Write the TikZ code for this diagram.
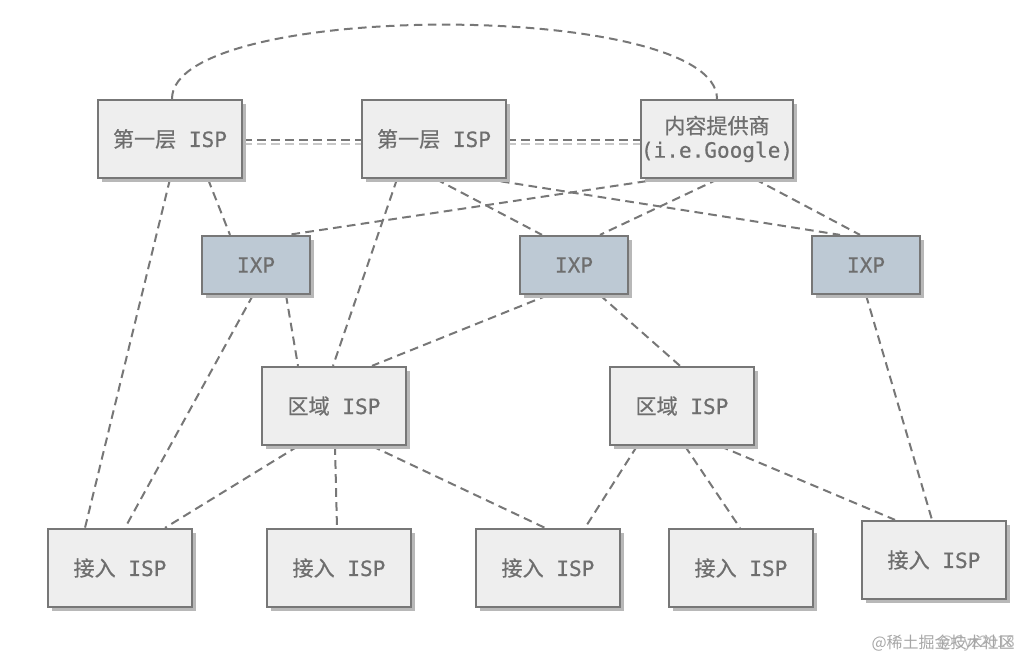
\documentclass[tikz,border=0pt]{standalone}
\usepackage{fontspec}
\newfontfamily\cjk[FakeBold=0.6]{Noto Sans CJK SC}
\newfontfamily\mono[FakeBold=0.5]{DejaVu Sans Mono}
\newfontfamily\wmfont{Noto Sans CJK SC}
\usetikzlibrary{shadows,calc,backgrounds}
\definecolor{edgec}{HTML}{777777}
\definecolor{boxfill}{HTML}{EEEEEE}
\definecolor{ixpfill}{HTML}{BDC9D4}
\definecolor{txt}{HTML}{6E6E6E}
\begin{document}
\begin{tikzpicture}[x=0.75pt,y=-0.75pt,
  box/.style={draw=edgec, line width=1.7pt, fill=boxfill, minimum width=108.5pt, minimum height=58.5pt,
    inner sep=0pt, text=txt, font=\fontsize{15.8}{18}\selectfont, align=center,
    drop shadow={shadow xshift=3pt, shadow yshift=-3pt, fill=black!28, opacity=1}},
  ixp/.style={box, fill=ixpfill, minimum width=81pt, minimum height=43.5pt},
  link/.style={draw=edgec, line width=1.5pt, dash pattern=on 6.5pt off 4pt},
  ghost/.style={draw=black!22, line width=1.5pt, dash pattern=on 6.5pt off 4pt},
  wm/.style={text=black!35, font=\wmfont\fontsize{12}{14}\selectfont, inner sep=0pt}]
\useasboundingbox (0,0) rectangle (1022,660);
% nodes
\node[box] (T1a) at (170,139) {{\cjk 第一层}{\mono{} ISP}};
\node[box] (T1b) at (434,139) {{\cjk 第一层}{\mono{} ISP}};
\node[box] (CP) at (717,139) {{\cjk 内容提供商}\\{\mono (i.e.Google)}};
\node[ixp] (IXP1) at (256,265) {\mono IXP};
\node[ixp] (IXP2) at (574,265) {\mono IXP};
\node[ixp] (IXP3) at (866,265) {\mono IXP};
\node[box] (R1) at (334,406) {{\cjk 区域}{\mono{} ISP}};
\node[box] (R2) at (682,406) {{\cjk 区域}{\mono{} ISP}};
\node[box] (A1) at (120,568) {{\cjk 接入}{\mono{} ISP}};
\node[box] (A2) at (339,568) {{\cjk 接入}{\mono{} ISP}};
\node[box] (A3) at (548,568) {{\cjk 接入}{\mono{} ISP}};
\node[box] (A4) at (741,568) {{\cjk 接入}{\mono{} ISP}};
\node[box] (A5) at (934,560) {{\cjk 接入}{\mono{} ISP}};
% connectors
\begin{scope}[on background layer]
\draw[link] ($(T1a.north)+(2,0)$) .. controls +(0,-99) and +(0,-99) .. (CP.north);
\draw[ghost] ($(T1a.east)+(0,5)$) -- ($(T1b.west)+(0,5)$);
\draw[link] ($(T1a.east)+(0,1)$) -- ($(T1b.west)+(0,1)$);
\draw[ghost] ($(T1b.east)+(0,5)$) -- ($(CP.west)+(0,5)$);
\draw[link] ($(T1b.east)+(0,1)$) -- ($(CP.west)+(0,1)$);
\draw[link] (T1a.south) -- ($(A1.north)+(-35,0)$);
\draw[link] ($(T1a.south)+(38,0)$) -- ($(IXP1.north)+(-26,0)$);
\draw[link] ($(T1b.south)+(-37,0)$) -- ($(R1.north)+(-1,0)$);
\draw[link] ($(T1b.south)+(2,0)$) -- ($(IXP2.north)+(-32,0)$);
\draw[link] ($(T1b.south)+(53,0)$) -- ($(IXP3.north)+(-26,0)$);
\draw[link] ($(CP.south)+(-57,0)$) -- ($(IXP1.north)+(32,0)$);
\draw[link] ($(CP.south)+(1,0)$) -- ($(IXP2.north)+(26,0)$);
\draw[link] ($(CP.south)+(38,0)$) -- ($(IXP3.north)+(-6,0)$);
\draw[link] ($(IXP1.south)+(-3,0)$) -- ($(A1.north)+(5,0)$);
\draw[link] ($(IXP1.south)+(30,0)$) -- ($(R1.north)+(-36,0)$);
\draw[link] ($(IXP2.south)+(-26,0)$) -- ($(R1.north)+(38,0)$);
\draw[link] ($(IXP2.south)+(26,0)$) -- ($(R2.north)+(-2,0)$);
\draw[link] (IXP3.south) -- ($(A5.north)+(-2,0)$);
\draw[link] ($(R1.south)+(-36,0)$) -- ($(A1.north)+(45,0)$);
\draw[link] ($(R1.south)+(1,0)$) -- ($(A2.north)+(-2,0)$);
\draw[link] ($(R1.south)+(38,0)$) -- ($(A3.north)+(-3,0)$);
\draw[link] ($(R2.south)+(-45,0)$) -- ($(A3.north)+(37,0)$);
\draw[link] ($(R2.south)+(3,0)$) -- ($(A4.north)+(-1,0)$);
\draw[link] ($(R2.south)+(38,0)$) -- ($(A5.north)+(-39,0)$);
\end{scope}
% watermark
\node[wm, anchor=east] (wm1) at (1015,643) {@稀土掘金技术社区};
\node[wm, anchor=east, opacity=0.8] (wm2) at (1015,643) {@Cyz2018};
\end{tikzpicture}
\end{document}
